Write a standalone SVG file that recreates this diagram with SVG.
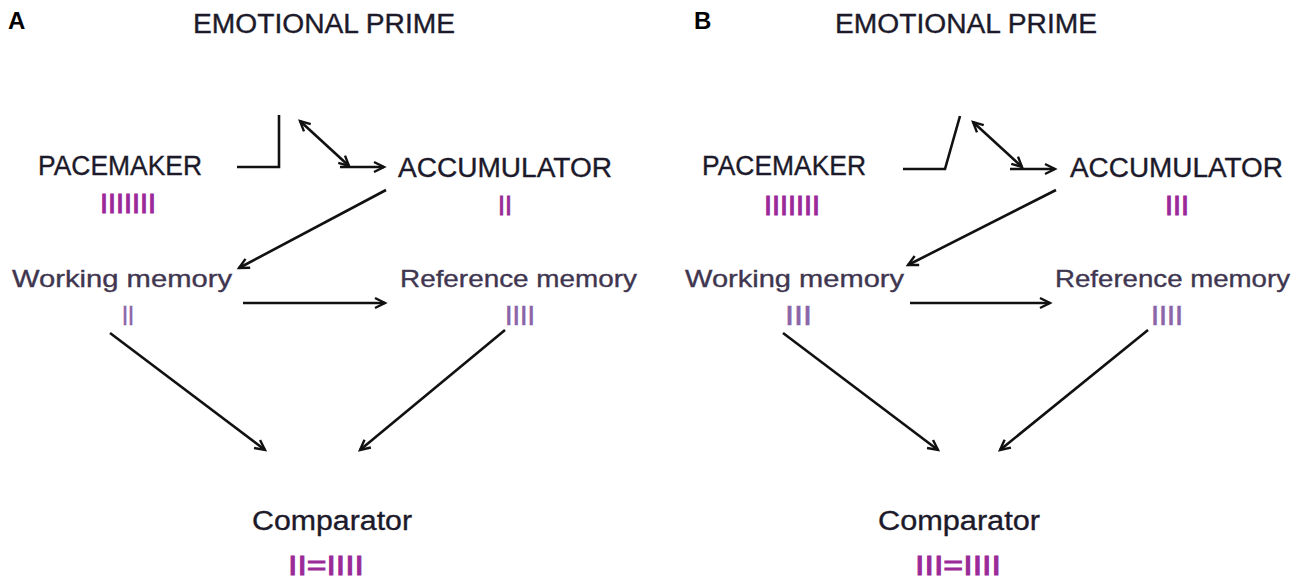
<svg xmlns="http://www.w3.org/2000/svg" width="1300" height="583" viewBox="0 0 1300 583">
<style>
.lbl{font-family:"Liberation Sans",Arial,sans-serif;fill:#1c1a2a;stroke:#1c1a2a;stroke-width:0.35}
.big{font-size:27px}
.mem{font-size:24px;fill:#3f3650;stroke:#3f3650}
.pl{font-family:"Liberation Sans",Arial,sans-serif;font-weight:bold;font-size:24px;fill:#000}
.tal{font-family:"Liberation Sans",Arial,sans-serif;font-size:28px;fill:#9a2a98;stroke:#9a2a98;stroke-width:0.9}
.tal2{font-family:"Liberation Sans",Arial,sans-serif;font-size:28px;fill:#8a66a8;stroke:#8a66a8;stroke-width:0.6}
.ln{stroke:#111;stroke-width:2.6;fill:none}
</style>
<defs>
<marker id="ah" markerUnits="userSpaceOnUse" markerWidth="14" markerHeight="14" refX="11" refY="6" orient="auto-start-reverse" viewBox="0 0 14 12">
<path d="M1,1 L11,6 L1,11" fill="none" stroke="#111" stroke-width="2.4"/>
</marker>
</defs>
<text class="pl" x="8" y="29">A</text>
<text class="pl" x="694" y="29">B</text>
<g id="A-prime"><text class="lbl big" x="193" y="33" textLength="262" lengthAdjust="spacingAndGlyphs">EMOTIONAL PRIME</text></g>
<g id="A-pacemaker"><text class="lbl big" x="38" y="175" textLength="164" lengthAdjust="spacingAndGlyphs">PACEMAKER</text><text class="tal" x="100" y="213" textLength="56" lengthAdjust="spacingAndGlyphs">IIIIIII</text></g>
<g id="A-accumulator"><text class="lbl big" x="398" y="177" textLength="214" lengthAdjust="spacingAndGlyphs">ACCUMULATOR</text><text class="tal" x="498" y="215" textLength="14" lengthAdjust="spacingAndGlyphs">II</text></g>
<g id="A-working"><text class="lbl mem" x="12" y="287" textLength="220" lengthAdjust="spacingAndGlyphs">Working memory</text><text class="tal2" x="122" y="325" textLength="12" lengthAdjust="spacingAndGlyphs">II</text></g>
<g id="A-reference"><text class="lbl mem" x="400" y="287" textLength="237" lengthAdjust="spacingAndGlyphs">Reference memory</text><text class="tal2" x="505" y="325" textLength="30" lengthAdjust="spacingAndGlyphs">IIII</text></g>
<g id="A-comparator"><text class="lbl big" x="252" y="530" textLength="160" lengthAdjust="spacingAndGlyphs">Comparator</text><text class="tal" x="288" y="575" textLength="76" lengthAdjust="spacingAndGlyphs">II=IIII</text></g>

<g id="B-prime"><text class="lbl big" x="835" y="33" textLength="262" lengthAdjust="spacingAndGlyphs">EMOTIONAL PRIME</text></g>
<g id="B-pacemaker"><text class="lbl big" x="702" y="175" textLength="164" lengthAdjust="spacingAndGlyphs">PACEMAKER</text><text class="tal" x="764" y="215" textLength="56" lengthAdjust="spacingAndGlyphs">IIIIIII</text></g>
<g id="B-accumulator"><text class="lbl big" x="1070" y="177" textLength="213" lengthAdjust="spacingAndGlyphs">ACCUMULATOR</text><text class="tal" x="1165" y="215" textLength="24" lengthAdjust="spacingAndGlyphs">III</text></g>
<g id="B-working"><text class="lbl mem" x="685" y="287" textLength="219" lengthAdjust="spacingAndGlyphs">Working memory</text><text class="tal2" x="785" y="325" textLength="27" lengthAdjust="spacingAndGlyphs">III</text></g>
<g id="B-reference"><text class="lbl mem" x="1055" y="287" textLength="235" lengthAdjust="spacingAndGlyphs">Reference memory</text><text class="tal2" x="1151" y="325" textLength="32" lengthAdjust="spacingAndGlyphs">IIII</text></g>
<g id="B-comparator"><text class="lbl big" x="878" y="530" textLength="162" lengthAdjust="spacingAndGlyphs">Comparator</text><text class="tal" x="915" y="575" textLength="86" lengthAdjust="spacingAndGlyphs">III=IIII</text></g>

<g id="connectors">
<polyline class="ln" points="237,167 279,167 279,115"/>
<line class="ln" x1="300" y1="121" x2="349" y2="166" marker-start="url(#ah)" marker-end="url(#ah)"/>
<line class="ln" x1="340" y1="167" x2="384" y2="167" marker-end="url(#ah)"/>
<line class="ln" x1="386" y1="190" x2="239" y2="268" marker-end="url(#ah)"/>
<line class="ln" x1="243" y1="303" x2="385" y2="303" marker-end="url(#ah)"/>
<line class="ln" x1="110" y1="333" x2="265" y2="450" marker-end="url(#ah)"/>
<line class="ln" x1="505" y1="330" x2="360" y2="450" marker-end="url(#ah)"/>

<polyline class="ln" points="903,169 945,169 960,116"/>
<line class="ln" x1="973" y1="122" x2="1022" y2="167" marker-start="url(#ah)" marker-end="url(#ah)"/>
<line class="ln" x1="1010" y1="169" x2="1055" y2="169" marker-end="url(#ah)"/>
<line class="ln" x1="1056" y1="190" x2="908" y2="265" marker-end="url(#ah)"/>
<line class="ln" x1="910" y1="303" x2="1050" y2="303" marker-end="url(#ah)"/>
<line class="ln" x1="783" y1="333" x2="938" y2="450" marker-end="url(#ah)"/>
<line class="ln" x1="1148" y1="330" x2="1000" y2="450" marker-end="url(#ah)"/>
</g>
</svg>
